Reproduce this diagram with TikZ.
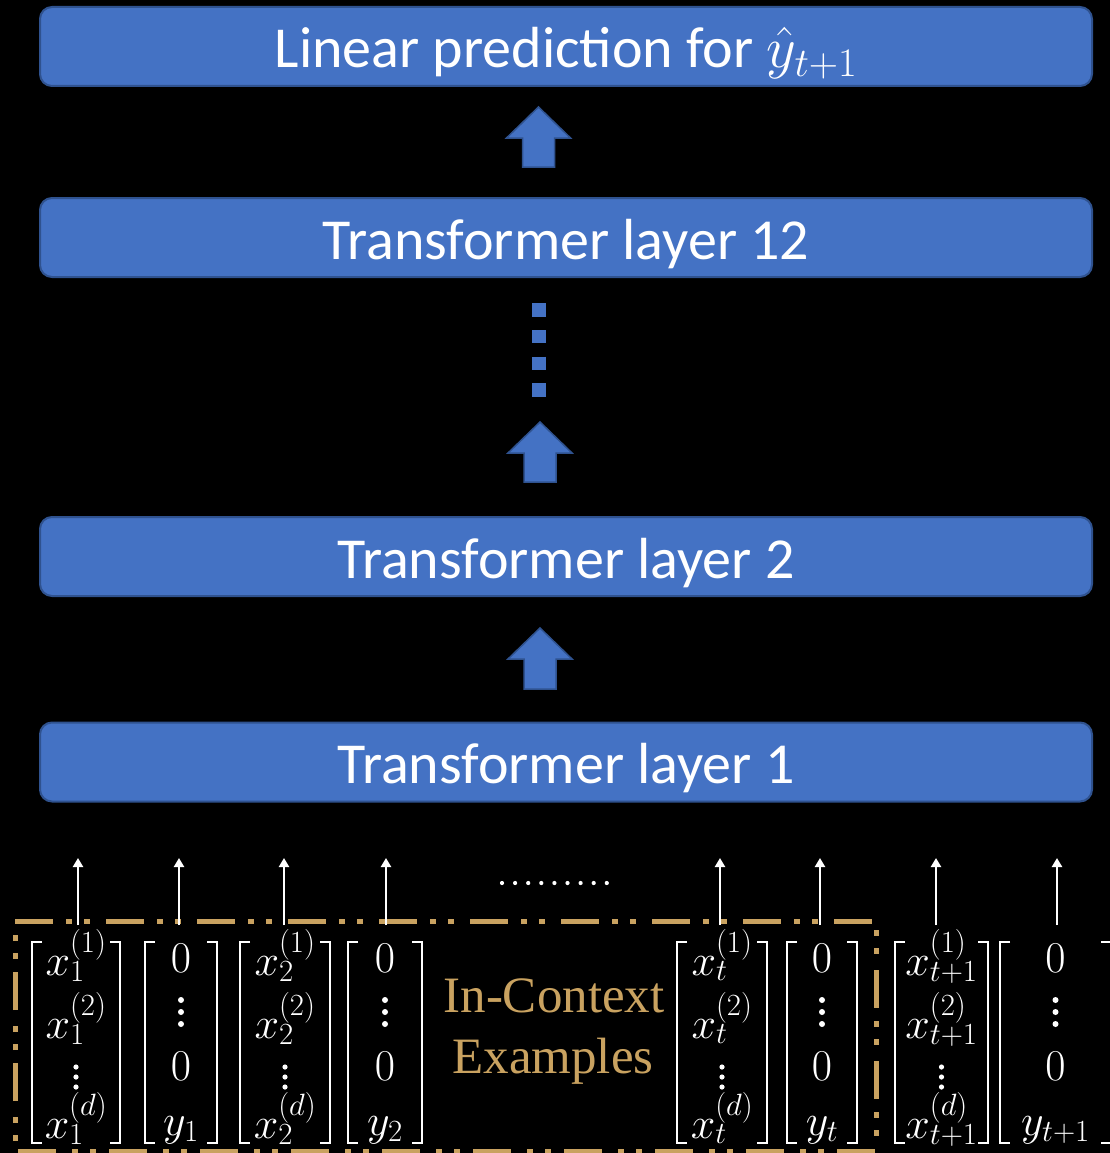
\RequirePackage{fix-cm}
\documentclass[tikz,border=0pt]{standalone}
\usepackage[no-math]{fontspec}
\setmainfont{Carlito}
\newfontfamily\ictfont{Liberation Serif}
\usetikzlibrary{arrows.meta}
\definecolor{layerblue}{HTML}{4472C4}
\definecolor{layeredge}{HTML}{2F528F}
\definecolor{gold}{RGB}{201,162,96}

\tikzset{
  layer/.style={draw=layeredge, line width=2pt, fill=layerblue, rounded corners=12pt,
    minimum width=1052pt, minimum height=79pt, inner sep=0pt,
    text height=43pt, text depth=0pt, text=white, font=\fontsize{58}{70}\selectfont},
  blockarrow/.style={draw=layeredge, line width=1.5pt, fill=layerblue, line join=miter},
  ent/.style={text=white, inner sep=0pt, anchor=base, font=\fontsize{44}{52}\selectfont},
  brack/.style={draw=white, line width=2.4pt},
  wire/.style={draw=white, line width=2.6pt, -{Triangle[length=9pt,width=10pt]}},
  ctxframe/.style={draw=gold, line width=5pt,
    dash pattern=on 38pt off 13pt on 6pt off 12pt on 6pt off 16pt},
  ctxtext/.style={text=gold, inner sep=0pt, anchor=base, font=\ictfont\fontsize{51}{60}\selectfont},
}

% a pair of square brackets between two x positions
\newcommand{\bracketpair}[2]{%
  \draw[brack] ({#1+10},942) -- (#1,942) -- (#1,1143) -- ({#1+10},1143);
  \draw[brack] ({#2-10},942) -- (#2,942) -- (#2,1143) -- ({#2-10},1143);}
% three stacked dots: x, first y, step, radius
\newcommand{\stackdots}[4]{%
  \foreach \k in {0,1,2} \fill[white] ({#1},{#2+\k*#3}) circle[radius=#4pt];}
% column vector of features: name, left, right, subscript
\newcommand{\xcol}[4]{%
  \bracketpair{#2}{#3}
  \node[ent] (#1a) at ({(#2+#3)/2},975) {$x_{#4}^{(1)}$};
  \node[ent] (#1b) at ({(#2+#3)/2},1038) {$x_{#4}^{(2)}$};
  \stackdots{(#2+#3)/2}{1067}{10}{2.6}
  \node[ent] (#1c) at ({(#2+#3)/2},1138) {$x_{#4}^{(d)}$};}
% column vector of a label: name, left, right, subscript
\newcommand{\ycol}[4]{%
  \bracketpair{#2}{#3}
  \node[ent] (#1a) at ({(#2+#3)/2},972) {$0$};
  \stackdots{(#2+#3)/2}{1000}{12}{3}
  \node[ent] (#1b) at ({(#2+#3)/2},1080) {$0$};
  \node[ent] (#1c) at ({(#2+#3)/2},1135) {$y_{#4}$};}
% thick upward block arrow: x, tip, head base, bottom
\newcommand{\upblock}[4]{%
  \draw[blockarrow] ({#1-16},#4) -- ({#1-16},#3) -- ({#1-32},#3) -- (#1,#2)
    -- ({#1+32},#3) -- ({#1+16},#3) -- ({#1+16},#4) -- cycle;}

\begin{document}
\begin{tikzpicture}[x=1pt,y=-1pt]
\fill[black] (0,0) rectangle (1110,1153);
\useasboundingbox (0,0) rectangle (1110,1153);
\clip (0,0) rectangle (1110,1153);

% stack of layers
\node[layer] (pred) at (566,46.5) {Linear prediction for $\hat{y}_{t+1}$};
\node[layer] (l12) at (566,237.5) {Transformer layer 12};
\node[layer] (l2) at (566,556.5) {Transformer layer 2};
\node[layer] (l1) at (566,762) {Transformer layer 1};

\upblock{538.5}{107}{138}{167}
\upblock{540}{422}{453}{482}
\upblock{540}{628}{659}{689}

% skipped layers
\coordinate (skipA) at (539,303.3);
\coordinate (skipB) at (539,396.7);
\draw[layerblue, line width=13.3pt, dash pattern=on 13.3pt off 13.4pt] (skipA) -- (skipB);

% in-context examples frame
\draw[ctxframe] (15,921) -- (876,921) -- (876,1151) -- (15,1151) -- cycle;

% input columns
\xcol{ma}{32}{120}{1}
\ycol{mb}{145}{217}{1}
\xcol{mc}{240}{330}{2}
\ycol{md}{348}{422}{2}
\xcol{me}{677}{767}{t}
\ycol{mf}{787}{857}{t}
\xcol{mg}{895}{988}{t+1}
\ycol{mh}{1000}{1111}{t+1}

\node[ctxtext] (ctx1) at (554,1012) {In-Context};
\node[ctxtext] (ctx2) at (553,1073) {Examples};

% token inputs feeding the first layer
\foreach \n/\xx in {1/78,2/179,3/284,4/386,5/720,6/820,7/936,8/1057} {
  \coordinate (in\n) at (\xx,925);
  \coordinate (up\n) at (\xx,858);
  \draw[wire] (in\n) -- (up\n);
}
\foreach \i in {0,...,8} \fill[white] ({502+\i*13.1},883) circle[radius=2.1pt];
\end{tikzpicture}
\end{document}
